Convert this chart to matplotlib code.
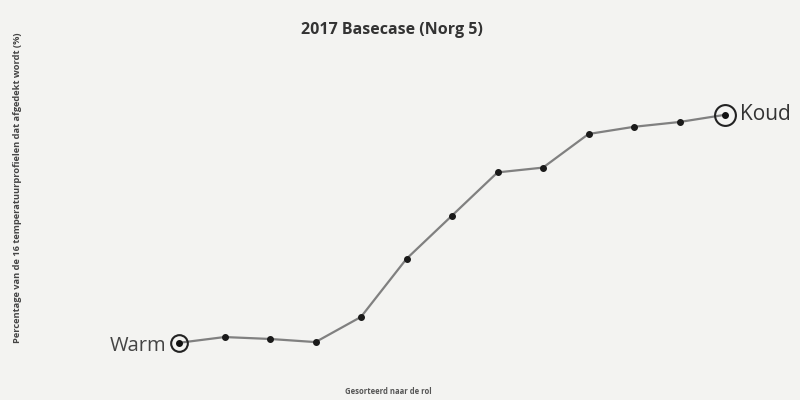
import matplotlib.pyplot as plt

# 13 temperatuurprofielen, van warm naar koud
profielen = list(range(13))
percentage = [3.0, 5.4, 4.6, 3.3, 13.8, 38.0, 56.0, 74.0, 76.0, 90.0, 93.0, 95.0, 98.0]
eind_labels = ["Warm", "Koud"]

titel = "2017 Basecase (Norg 5)"
y_label = "Percentage van de 16 temperatuurprofielen dat afgedekt wordt (%)"
x_label = "Gesorteerd naar de rol"

plt.rcParams['font.family'] = ['Open Sans', 'DejaVu Sans']

fig = plt.figure(figsize=(8, 4), dpi=100)
fig.patch.set_facecolor('#f3f3f1')
ax = fig.add_axes([0, 0, 1, 1])
ax.set_facecolor('#f3f3f1')

ax.plot(profielen, percentage, color='#808080', lw=1.6, zorder=1)
ax.plot(profielen[1:-1], percentage[1:-1], 'o', color='#1a1a1a', ms=4, zorder=2)

# open cirkels op de uiteinden
for i, grootte in ((0, 12), (-1, 15)):
    ax.plot(profielen[i], percentage[i], 'o', mfc='none', mec='#222222', ms=grootte, mew=1.5, zorder=3)
    ax.plot(profielen[i], percentage[i], 'o', color='#111111', ms=4, zorder=3)

ax.annotate(eind_labels[0], (profielen[0], percentage[0]), xytext=(-9, -2),
            textcoords='offset points', ha='right', va='center', fontsize=14.5, color='#444444')
ax.annotate(eind_labels[1], (profielen[-1], percentage[-1]), xytext=(11, 0),
            textcoords='offset points', ha='left', va='center', fontsize=15, color='#333333')

ax.set_xlim(-3.934, 13.648)
ax.set_ylim(-20.83, 145.83)
ax.axis('off')

fig.text(0.49, 0.925, titel, ha='center', va='center', fontsize=11.5, fontweight='bold', color='#333333')
fig.text(0.022, 0.53, y_label, rotation=90, ha='center', va='center', fontsize=6.7,
         fontweight='bold', color='#444444')
fig.text(0.485, 0.02, x_label, ha='center', va='center', fontsize=5.5, fontweight='bold', color='#555555')

fig.savefig('out.png', dpi=100, facecolor=fig.get_facecolor())
